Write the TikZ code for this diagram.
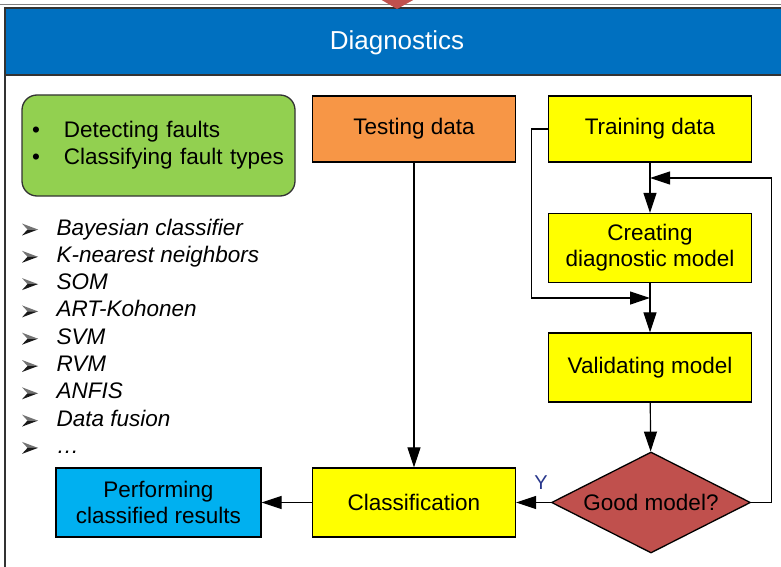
\documentclass[tikz,border=0pt]{standalone}
\usepackage{fontspec}
\setmainfont{Liberation Sans}
\usetikzlibrary{arrows.meta,shapes.geometric}

\definecolor{headblue}{HTML}{0070C0}
\definecolor{taskgreen}{HTML}{92D050}
\definecolor{testorange}{HTML}{F79646}
\definecolor{stepyellow}{HTML}{FFFF00}
\definecolor{goodred}{HTML}{C0504D}
\definecolor{resultblue}{HTML}{00B0F0}
\definecolor{labelblue}{RGB}{40,55,140}

\begin{document}
\begin{tikzpicture}[x = 1pt, y = -1pt, line width = 1.2pt,
    stepbox/.style = {draw = black, line width = 1.3pt, minimum width = 203pt,
        minimum height = 66pt, align = center, inner sep = 0pt,
        font = \fontsize{22.5}{26}\selectfont},
    decision/.style = {draw = black, line width = 1.3pt, diamond, aspect = 2,
        minimum width = 199pt, minimum height = 101pt, inner sep = 0pt,
        fill = goodred, font = \fontsize{22.5}{26}\selectfont},
    method/.style = {anchor = west, inner sep = 0pt, text height = 16pt,
        text depth = 5pt, font = \itshape\fontsize{22.5}{27}\selectfont},
    flow/.style = {draw = black, -{Triangle[length = 20pt, width = 13pt]}}
]

        % Page size of the reference.
        \useasboundingbox (0,0) rectangle (781,567);
        \clip (0,0) rectangle (781,567);

        % Outer frame and the title bar.
        \draw[black!50, line width = 1pt] (0,4.5) -- (781,4.5);
        \draw[black!80, line width = 1.5pt] (5,8) rectangle (790,600);
        \filldraw[fill = headblue, draw = black!80, line width = 1.5pt]
            (5,8) rectangle (790,75);
        \node[text = white, font = \fontsize{26}{30}\selectfont] (title)
            at (397,43) {Diagnostics};

        % Tip of the incoming arrow at the top.
        \fill[goodred] (380,-1) -- (415,-1) -- (397,9) -- cycle;

        % Tasks of the diagnostics.
        \node[draw = black!80, fill = taskgreen, line width = 1.3pt,
            rounded corners = 15pt, minimum width = 273pt, minimum height = 101pt,
            text width = 253pt, inner xsep = 10pt, align = left,
            font = \fontsize{22.5}{27}\selectfont] (tasks) at (158.5,145.5)
            {\begin{tabular}{@{}l@{\hspace{24pt}}l@{}}
                \textbullet & Detecting faults\\
                \textbullet & Classifying fault types
             \end{tabular}};

        % List of methods with arrow bullets.
        \foreach \meth [count = \i] in {Bayesian classifier, K-nearest neighbors,
            SOM, ART-Kohonen, SVM, RVM, ANFIS, Data fusion, \ldots} {
            \pgfmathsetmacro{\ypos}{229.5 + (\i - 1)*27.3}
            \fill[black!55] (22,\ypos - 6) -- (38,\ypos) -- (27.5,\ypos) -- cycle;
            \fill[black!90] (22,\ypos + 6) -- (38,\ypos) -- (27.5,\ypos) -- cycle;
            \node[method] (method\i) at (56,\ypos) {\meth};
        }

        % Boxes of the flow chart.
        \node[stepbox, fill = testorange] (test) at (414,129) {Testing data};
        \node[stepbox, fill = stepyellow] (train) at (650,129) {Training data};
        \node[stepbox, fill = stepyellow, minimum height = 69pt] (create)
            at (650,248) {Creating\\diagnostic model};
        \node[stepbox, fill = stepyellow, minimum height = 69pt] (valid)
            at (650,367.5) {Validating model};
        \node[decision] (good) at (651,502.5) {Good model?};
        \node[stepbox, fill = stepyellow, minimum height = 69pt] (classify)
            at (414,502.5) {Classification};
        \node[stepbox, fill = resultblue, minimum width = 205pt,
            minimum height = 69pt] (result) at (158.5,502.5)
            {Performing\\classified results};

        % Joints where the side lines come in.
        \coordinate (loopin) at (650,178);
        \coordinate (skipin) at (650,298);

        % Connectors.
        \draw[flow] (train) -- (create);
        \draw[flow] (create) -- (valid);
        \draw[flow] (valid) -- (good);
        \draw[flow] (good.east) -- ++(20,0) |- (loopin);
        \draw[flow] (train.west) -- ++(-16,0) |- (skipin);
        \draw[flow] (test) -- (classify);
        \draw[flow] (good.west) -- (classify.east);
        \draw[flow] (classify.west) -- (result.east);
        \node[text = labelblue, font = \fontsize{20}{22}\selectfont] (yes)
            at (541,483) {Y};
    \end{tikzpicture}
\end{document}
